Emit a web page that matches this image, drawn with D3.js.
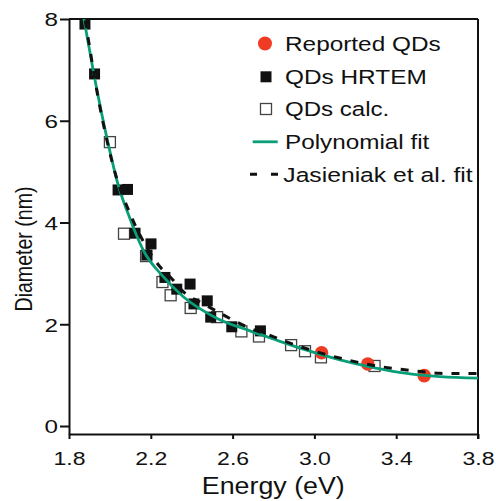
<!DOCTYPE html>
<html>
<head>
<meta charset="utf-8">
<script src="https://cdn.jsdelivr.net/npm/d3@7"></script>
<style>
  body { margin: 0; background: #fff; }
  svg { display: block; font-family: "Liberation Sans", Arial, Helvetica, sans-serif; }
</style>
</head>
<body>
<svg id="graph" width="496" height="501"></svg>
<script>
// values
var xTicks = [1.8, 2.2, 2.6, 3.0, 3.4, 3.8];
var yTicks = [0, 2, 4, 6, 8];

var reportedE = [3.035, 3.261, 3.537];
var reportedD = [1.44, 1.22, 0.99];

var hrtemE = [1.878, 1.925, 2.040, 2.086, 2.123, 2.201, 2.181, 2.269, 2.327, 2.392, 2.411, 2.476, 2.493, 2.596, 2.736];
var hrtemD = [7.90, 6.92, 4.64, 4.65, 3.79, 3.58, 3.36, 2.92, 2.69, 2.79, 2.40, 2.46, 2.14, 1.95, 1.87];

var calcE = [2.000, 2.069, 2.177, 2.257, 2.297, 2.395, 2.524, 2.643, 2.729, 2.886, 2.954, 3.032, 3.294];
var calcD = [5.58, 3.78, 3.34, 2.83, 2.57, 2.32, 2.14, 1.86, 1.76, 1.59, 1.47, 1.35, 1.18];

var polyE = [1.860, 1.873, 1.922, 1.991, 2.041, 2.098, 2.126, 2.168, 2.253, 2.359, 2.522, 2.685, 2.799, 2.962, 3.125, 3.288, 3.451, 3.614, 3.800];
var polyD = [8.30, 8.00, 6.91, 5.56, 4.73, 4.08, 3.79, 3.42, 2.97, 2.54, 2.12, 1.87, 1.71, 1.49, 1.30, 1.15, 1.035, 0.97, 0.94];

var jasE = [1.865, 1.878, 1.943, 2.033, 2.098, 2.245, 2.302, 2.367, 2.454, 2.538, 2.612, 2.693, 2.783, 2.881, 3.052, 3.150, 3.335, 3.433, 3.525, 3.614, 3.800];
var jasD = [8.30, 8.00, 6.44, 4.87, 4.18, 3.13, 2.90, 2.61, 2.41, 2.22, 2.06, 1.91, 1.78, 1.63, 1.41, 1.31, 1.16, 1.11, 1.07, 1.035, 1.03];

var red = "#ef3b24",
    green = "#0a9e78",
    black = "#111";

var svg = d3.select("#graph");

var x = d3.scaleLinear().domain([1.8, 3.8]).range([69, 478]),
    y = d3.scaleLinear().domain([-0.157, 8]).range([434, 19]);

svg.append("clipPath")
   .attr("id", "plotclip")
   .append("rect")
   .attr("x", x.range()[0])
   .attr("y", y.range()[1])
   .attr("width", x.range()[1] - x.range()[0])
   .attr("height", y.range()[0] - y.range()[1]);

// frame top and right
svg.append("line")
   .attr("x1", x.range()[0]).attr("x2", x.range()[1])
   .attr("y1", y.range()[1]).attr("y2", y.range()[1])
   .attr("stroke", black).attr("stroke-width", 2);
svg.append("line")
   .attr("x1", x.range()[1]).attr("x2", x.range()[1])
   .attr("y1", y.range()[1]).attr("y2", y.range()[0] + 5)
   .attr("stroke", black).attr("stroke-width", 2);

var xAxis = svg.append("g")
   .attr("transform", "translate(0," + y.range()[0] + ")")
   .call(d3.axisBottom(x).tickValues(xTicks).tickFormat(d3.format(".1f")).tickSize(5).tickSizeOuter(0));

var yAxis = svg.append("g")
   .attr("transform", "translate(" + x.range()[0] + ",0)")
   .call(d3.axisLeft(y).tickValues(yTicks).tickFormat(d3.format("d")).tickSize(9).tickSizeOuter(0));

[xAxis, yAxis].forEach(function(g) {
	g.attr("font-family", null).attr("font-size", 19);
	g.selectAll("path, line").attr("stroke", black).attr("stroke-width", 2);
	g.selectAll("text").attr("fill", black);
});

xAxis.selectAll("text")
     .attr("y", 31).attr("dy", null)
     .attr("textLength", 32).attr("lengthAdjust", "spacingAndGlyphs");

yAxis.selectAll("text")
     .attr("x", -11).attr("dy", "0.36em")
     .attr("textLength", 13.5).attr("lengthAdjust", "spacingAndGlyphs");

svg.append("text")
   .attr("x", 273.3).attr("y", 494)
   .attr("text-anchor", "middle")
   .attr("font-size", 23)
   .attr("fill", black)
   .attr("textLength", 143).attr("lengthAdjust", "spacingAndGlyphs")
   .text("Energy (eV)");

svg.append("text")
   .attr("transform", "translate(32,249) rotate(-90)")
   .attr("text-anchor", "middle")
   .attr("font-size", 24)
   .attr("fill", black)
   .attr("textLength", 125).attr("lengthAdjust", "spacingAndGlyphs")
   .text("Diameter (nm)");

// points
var sq = 11;

svg.append("g").selectAll("rect")
   .data(d3.range(calcE.length))
   .enter().append("rect")
   .attr("x", function(i) { return x(calcE[i]) - sq / 2; })
   .attr("y", function(i) { return y(calcD[i]) - sq / 2; })
   .attr("width", sq).attr("height", sq)
   .attr("fill", "#fff")
   .attr("stroke", "#444")
   .attr("stroke-width", 1.3);

svg.append("g").selectAll("rect")
   .data(d3.range(hrtemE.length))
   .enter().append("rect")
   .attr("x", function(i) { return x(hrtemE[i]) - sq / 2; })
   .attr("y", function(i) { return y(hrtemD[i]) - sq / 2; })
   .attr("width", sq).attr("height", sq)
   .attr("fill", black);

svg.append("g").selectAll("circle")
   .data(d3.range(reportedE.length))
   .enter().append("circle")
   .attr("cx", function(i) { return x(reportedE[i]); })
   .attr("cy", function(i) { return y(reportedD[i]); })
   .attr("r", 6.8)
   .attr("fill", red);

// fits
function fitLine(E, D) {
	return d3.line()
	  .x(function(i) { return x(E[i]); })
	  .y(function(i) { return y(D[i]); })
	  .curve(d3.curveMonotoneX)(d3.range(E.length));
}

svg.append("path")
   .attr("clip-path", "url(#plotclip)")
   .attr("d", fitLine(polyE, polyD))
   .attr("fill", "none")
   .attr("stroke", green)
   .attr("stroke-width", 2.8);

svg.append("path")
   .attr("clip-path", "url(#plotclip)")
   .attr("d", fitLine(jasE, jasD))
   .attr("fill", "none")
   .attr("stroke", black)
   .attr("stroke-width", 3)
   .attr("stroke-dasharray", "8,9");

// legend
var legendLabels = ["Reported QDs", "QDs HRTEM", "QDs calc.", "Polynomial fit", "Jasieniak et al. fit"];
var legendLen = [155.7, 141.7, 104.3, 144.3, 189.3];
var legendY = [43.5, 76.8, 109, 141.8, 174.2];

var lg = svg.append("g");

lg.selectAll("text")
  .data(legendLabels)
  .enter().append("text")
  .attr("x", function(d, i) { return i == 4 ? 283.3 : 285; })
  .attr("y", function(d, i) { return legendY[i] + 7.3; })
  .attr("font-size", 20.5)
  .attr("fill", black)
  .attr("textLength", function(d, i) { return legendLen[i]; })
  .attr("lengthAdjust", "spacingAndGlyphs")
  .text(function(d) { return d; });

lg.append("circle")
  .attr("cx", 265).attr("cy", legendY[0]).attr("r", 7)
  .attr("fill", red);

lg.append("rect")
  .attr("x", 266 - sq / 2).attr("y", legendY[1] - sq / 2)
  .attr("width", sq).attr("height", sq)
  .attr("fill", black);

lg.append("rect")
  .attr("x", 266 - sq / 2).attr("y", legendY[2] - sq / 2)
  .attr("width", sq).attr("height", sq)
  .attr("fill", "#fff").attr("stroke", "#444").attr("stroke-width", 1.3);

lg.append("line")
  .attr("x1", 252.7).attr("x2", 277.7)
  .attr("y1", legendY[3]).attr("y2", legendY[3])
  .attr("stroke", green).attr("stroke-width", 2.8);

lg.append("line")
  .attr("x1", 250).attr("x2", 279)
  .attr("y1", legendY[4]).attr("y2", legendY[4])
  .attr("stroke", black).attr("stroke-width", 3)
  .attr("stroke-dasharray", "7,14");
</script>
</body>
</html>
